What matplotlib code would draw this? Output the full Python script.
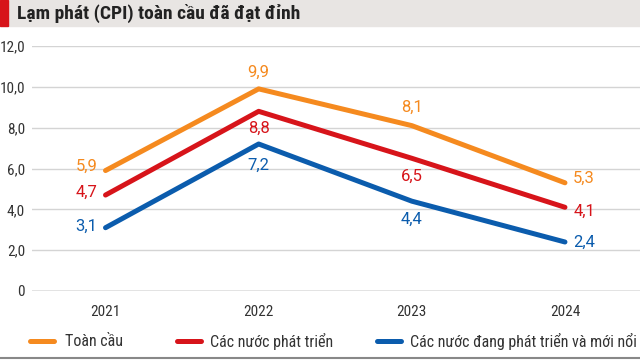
import matplotlib.pyplot as plt
from matplotlib.patches import Rectangle
from matplotlib.lines import Line2D

years = [2021, 2022, 2023, 2024]
global_cpi = [5.9, 9.9, 8.1, 5.3]
developed = [4.7, 8.8, 6.5, 4.1]
emerging = [3.1, 7.2, 4.4, 2.4]
names = ["Toàn cầu", "Các nước phát triển", "Các nước đang phát triển và mới nổi"]
colors = ["#f58a1f", "#d7141a", "#0b5cad"]
yticks = [0, 2, 4, 6, 8, 10, 12]

plt.rcParams['font.family'] = ['Roboto', 'DejaVu Sans']
narrow = ['Roboto Condensed', 'Archivo Narrow', 'Roboto', 'DejaVu Sans']

fig = plt.figure(figsize=(6.4, 3.62), dpi=100)
ax = fig.add_axes([32 / 640, 1 - 291 / 362, 608 / 640, 245 / 362])

series = [global_cpi, developed, emerging]
for vals, c in zip(series, colors):
    ax.plot(years, vals, color=c, lw=3.6, solid_capstyle='round', solid_joinstyle='round', zorder=3)

# label offsets (points) per year: first column left, middle above/below, last right
offsets = {
    0: [(-6, 3, 'right'), (-6, 2, 'right'), (-6, 1, 'right')],
    1: [(0, 12, 'center'), (0, -12, 'center'), (0, -15, 'center')],
    2: [(0, 13, 'center'), (0, -13, 'center'), (0, -13, 'center')],
    3: [(6, 3, 'left'), (6, -3, 'left'), (6, 0, 'left')],
}
for s, (vals, c) in enumerate(zip(series, colors)):
    for i, (x, v) in enumerate(zip(years, vals)):
        dx, dy, ha = offsets[i][s]
        ax.annotate(f"{v:.1f}".replace('.', ','), (x, v), xytext=(dx, dy),
                    textcoords='offset points', ha=ha, va='center',
                    color=c, fontsize=12)

ax.set_xlim(2020.52, 2024.49)
ax.set_ylim(0, 12)
ax.set_yticks(yticks)
ax.set_yticklabels(["0" if t == 0 else f"{t:.1f}".replace('.', ',') for t in yticks],
                   family=narrow)
ax.set_xticks(years)
ax.set_xticklabels([str(y) for y in years], family=narrow)
ax.grid(axis='y', color='#d4d4d4', lw=1)
ax.set_axisbelow(True)
for sp in ax.spines.values():
    sp.set_visible(False)
ax.tick_params(axis='both', length=0, labelsize=11, colors='#333333')
ax.tick_params(axis='y', pad=5)
ax.tick_params(axis='x', pad=10)
ax.axhline(0, color='#999999', lw=1, zorder=2)

# title bar
fig.patches.append(Rectangle((9 / 640, 1 - 26 / 362), 631 / 640, 26 / 362,
                             transform=fig.transFigure, color='#e8e5e3', zorder=0))
fig.patches.append(Rectangle((0, 1 - 26 / 362), 8 / 640, 26 / 362,
                             transform=fig.transFigure, color='#d7141a', zorder=0))
fig.text(17 / 640, 1 - 13 / 362, "Lạm phát (CPI) toàn cầu đã đạt đỉnh", family=narrow,
         fontsize=14, fontweight='bold', color='#222222', va='center', ha='left')

# legend, placed item by item
leg_y = 1 - 341 / 362
for (x0, x1, xt), name, c in zip([(30, 54, 65), (177, 201, 210), (377, 401, 410)], names, colors):
    fig.add_artist(Line2D([x0 / 640, x1 / 640], [leg_y, leg_y], transform=fig.transFigure,
                          color=c, lw=3.6, solid_capstyle='round'))
    fig.text(xt / 640, leg_y, name, family=narrow, fontsize=11.5, color='#333333',
             va='center', ha='left')

# bottom rule
fig.add_artist(Line2D([0, 1], [1 - 358 / 362] * 2, transform=fig.transFigure, color='#888888', lw=1.5))

fig.savefig('out.png', dpi=100)
